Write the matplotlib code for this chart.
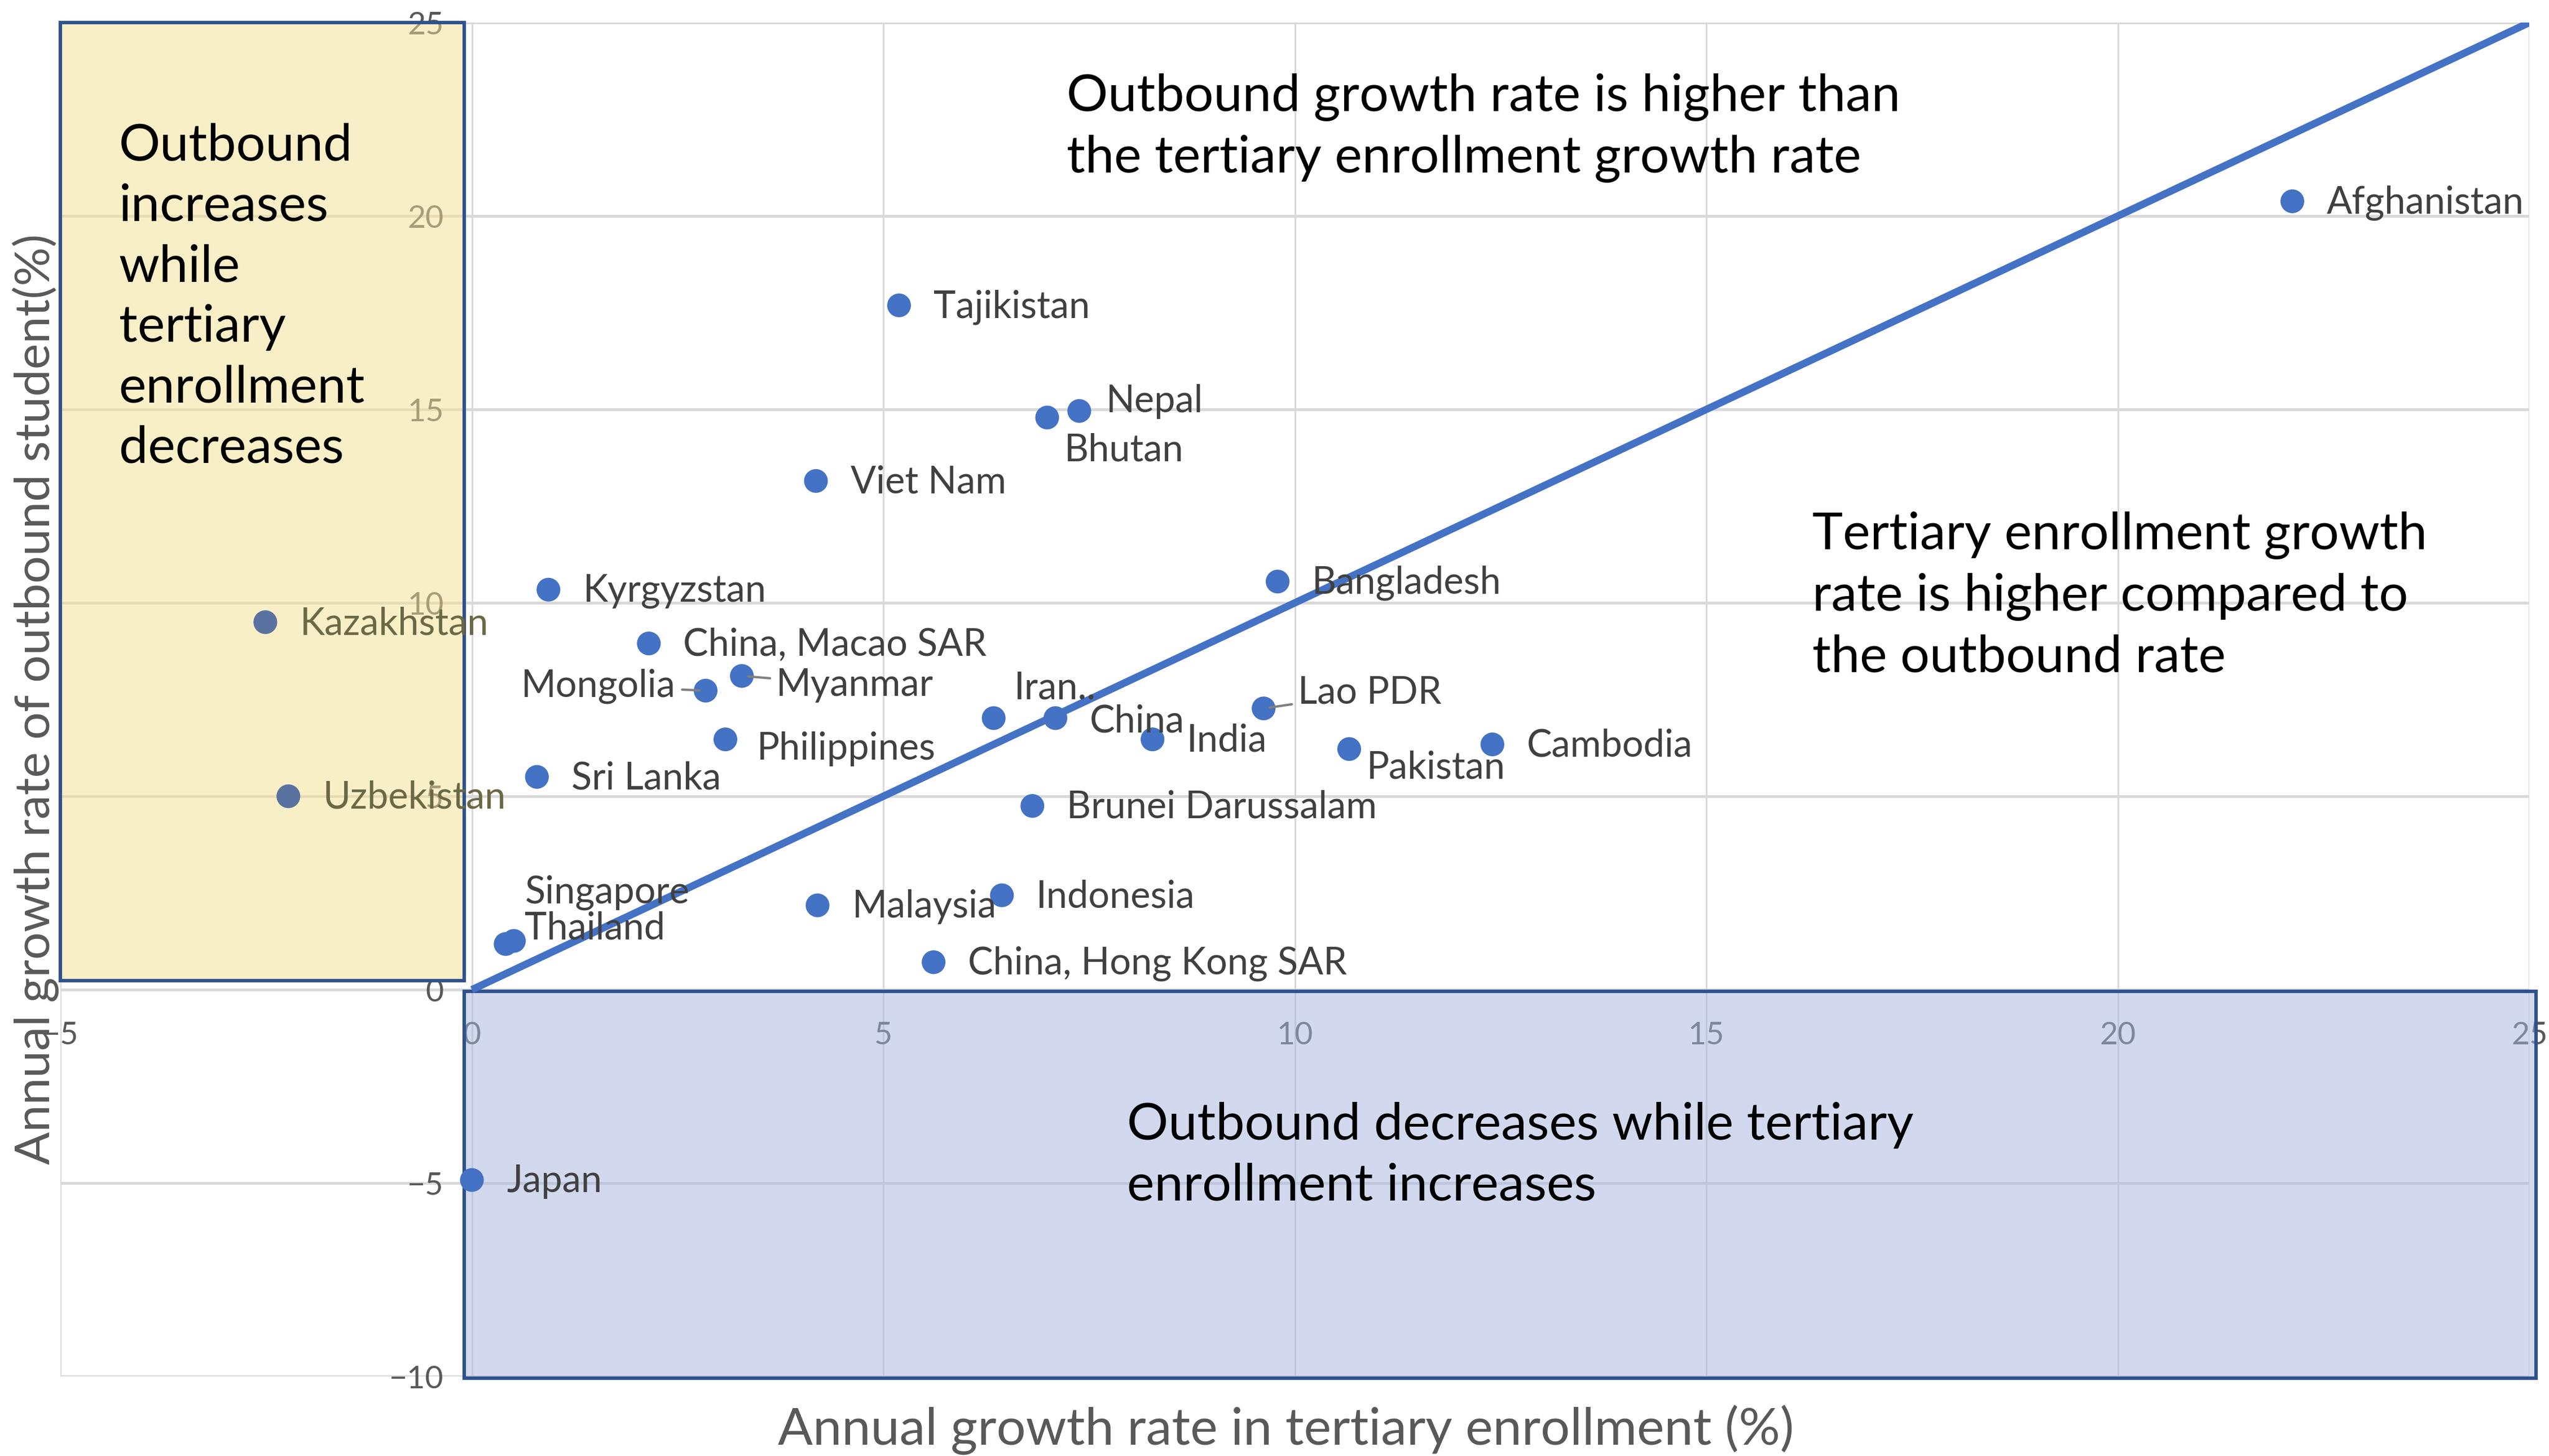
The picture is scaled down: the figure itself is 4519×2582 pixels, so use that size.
import numpy as np
import matplotlib.pyplot as plt
from matplotlib.patches import Rectangle

plt.rcParams['font.family'] = ['Lato', 'DejaVu Sans']

countries = ['Afghanistan', 'Tajikistan', 'Nepal', 'Bhutan', 'Viet Nam', 'Kyrgyzstan',
             'Bangladesh', 'Kazakhstan', 'China, Macao SAR', 'Myanmar', 'Mongolia',
             'Iran..', 'China', 'Lao PDR', 'India', 'Philippines', 'Pakistan', 'Cambodia',
             'Sri Lanka', 'Uzbekistan', 'Brunei Darussalam', 'Indonesia', 'Malaysia',
             'Singapore', 'Thailand', 'China, Hong Kong SAR', 'Japan']
enroll_growth = [22.12, 5.19, 7.38, 6.99, 4.18, 0.93,
                 9.79, -2.51, 2.15, 3.28, 2.84,
                 6.34, 7.09, 9.62, 8.27, 3.08, 10.66, 12.40,
                 0.79, -2.23, 6.81, 6.44, 4.20,
                 0.51, 0.41, 5.61, 0.0]
outbound_growth = [20.38, 17.69, 14.96, 14.79, 13.15, 10.34,
                   10.55, 9.50, 8.95, 8.11, 7.73,
                   7.02, 7.02, 7.27, 6.47, 6.47, 6.22, 6.34,
                   5.50, 5.00, 4.75, 2.44, 2.18,
                   1.26, 1.18, 0.71, -4.92]
ticks_x = [-5, 0, 5, 10, 15, 20, 25]
ticks_y = [-10, -5, 0, 5, 10, 15, 20, 25]

# label offsets in points (dx, dy); default is to the right of the dot
offsets = {'Nepal': (17, 6), 'Bhutan': (11, -21), 'Myanmar': (22, -6), 'Mongolia': (-19, 3),
           'Iran..': (13, 19), 'China': (22, -2), 'Lao PDR': (22, 10), 'Philippines': (20, -6),
           'Pakistan': (11, -12), 'Singapore': (7, 31), 'Thailand': (12, 10)}
leaders = ['Mongolia', 'Myanmar', 'Lao PDR']

blue = '#4472C4'
edge = '#2F528F'

fig = plt.figure(figsize=(22.595, 12.91), dpi=200)
ax = fig.add_axes([0.0237, 0.0546, 0.9686, 0.9299])
ax.set_xlim(-5, 25)
ax.set_ylim(-10, 25)
ax.set_xticks(ticks_x)
ax.set_yticks(ticks_y)
ax.set_axisbelow(True)
ax.grid(axis='y', color='#D9D9D9', lw=1.8)
ax.grid(axis='x', color='#D9D9D9', lw=1.1)
for s in ax.spines.values():
    s.set_visible(False)
ax.spines['left'].set_position(('data', 0))
ax.spines['bottom'].set_position(('data', 0))
ax.tick_params(length=0, labelsize=20, labelcolor='#595959')
ax.tick_params(axis='x', pad=20)
ax.tick_params(axis='y', pad=18)
ax.set_xticklabels(['\u22125', '0', '5', '10', '15', '20', '25'])
ax.set_yticklabels(['\u221210', '\u22125', '0', '5', '10', '15', '20', '25'])

# quadrant boxes
ax.add_patch(Rectangle((-5, 0.23), 4.91, 24.77, facecolor=(0.96, 0.88, 0.57, 0.5),
                       edgecolor=edge, lw=2.2, zorder=1, clip_on=False))
ax.add_patch(Rectangle((-0.09, -10.04), 25.17, 10.0, facecolor=(0.65, 0.71, 0.87, 0.5),
                       edgecolor=edge, lw=2.2, zorder=1, clip_on=False))

ax.plot([0, 25], [0, 25], color=blue, lw=4.7, zorder=2, solid_capstyle='butt')

x = np.array(enroll_growth)
y = np.array(outbound_growth)
inside = (x < 0) & (y > 0)
cols = np.where(inside, '#5A729F', blue)
ax.scatter(x, y, s=230, c=cols, zorder=3, linewidths=0)

for name, xi, yi, ins in zip(countries, x, y, inside):
    dx, dy = offsets.get(name, (22, -1))
    ha = 'right' if dx < 0 else 'left'
    tc = '#6B6845' if ins else '#404040'
    kw = {}
    if name in leaders:
        kw['arrowprops'] = dict(arrowstyle='-', color='#808080', lw=1.5, shrinkA=2, shrinkB=4)
    ax.annotate(name, (xi, yi), xytext=(dx, dy), textcoords='offset points',
                ha=ha, va='center', fontsize=24, color=tc, zorder=4, **kw)

note_kw = dict(fontsize=33, color='black', va='center', ha='left', linespacing=1.36, zorder=4)
ax.text(7.23, 22.27, 'Outbound growth rate is higher than\nthe tertiary enrollment growth rate', **note_kw)
ax.text(16.29, 10.17, 'Tertiary enrollment growth\nrate is higher compared to\nthe outbound rate', **note_kw)
ax.text(7.96, -4.29, 'Outbound decreases while tertiary\nenrollment increases', **note_kw)
ax.text(-4.29, 17.9, 'Outbound\nincreases\nwhile\ntertiary\nenrollment\ndecreases', **note_kw)

fig.text(0.5045, 0.018, 'Annual growth rate in tertiary enrollment (%)', fontsize=33,
         color='#595959', ha='center', va='center')
fig.text(0.014, 0.52, 'Annual growth rate of outbound student(%)', fontsize=31,
         color='#595959', ha='center', va='center', rotation=90)

fig.savefig('out.png', dpi=200)
